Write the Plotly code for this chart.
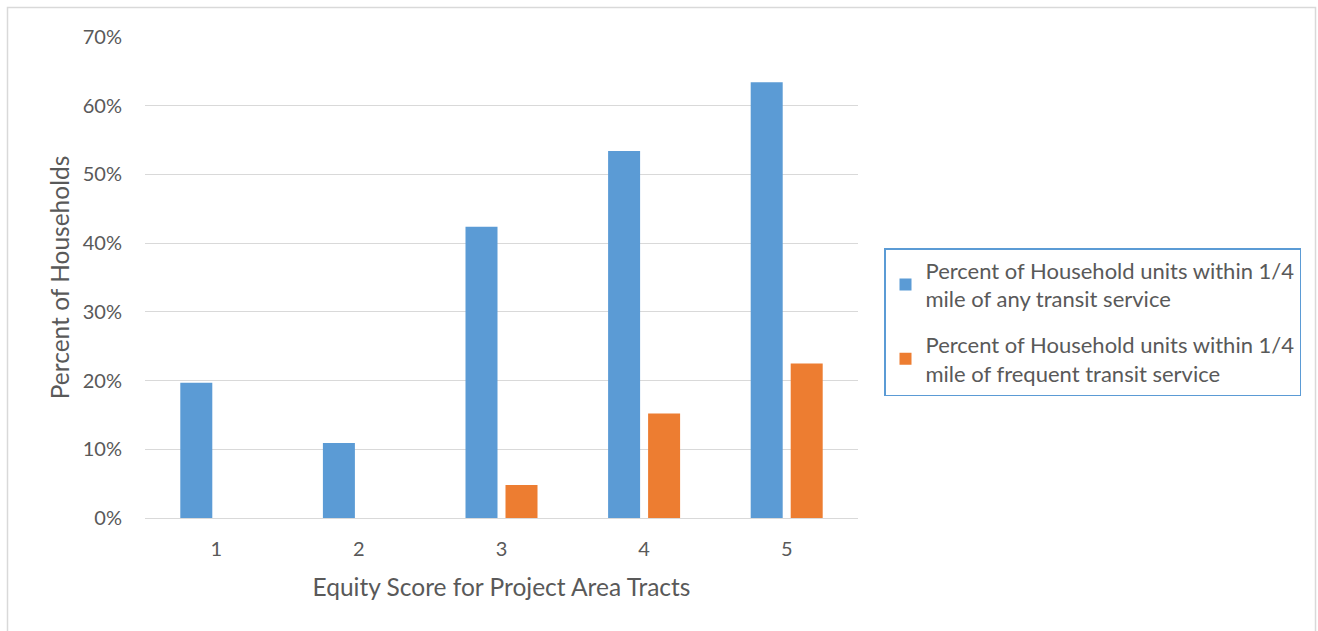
import plotly.graph_objects as go

categories = ["1", "2", "3", "4", "5"]
any_transit = [0.197, 0.109, 0.424, 0.534, 0.634]
frequent_transit = [0.0, 0.0, 0.048, 0.152, 0.225]
series_names = [
    "Percent of Household units within 1/4<br>mile of any transit service",
    "Percent of Household units within 1/4<br>mile of frequent transit service",
]
y_ticks = [0, 0.1, 0.2, 0.3, 0.4, 0.5, 0.6, 0.7]

FONT = "Lato"
TXT = "#595959"

W, H = 1318, 631
L, T = 145, 37
R = W - 858
B = H - 518
PW, PH = W - L - R, H - T - B

def px_x(x):
    return (x - L) / PW

def px_y(y):
    return (H - B - y) / PH

fig = go.Figure()
fig.add_trace(go.Bar(x=categories, y=any_transit, name=series_names[0], legendgroup="any",
                     marker=dict(color="#5b9bd5", line=dict(width=0))))
fig.add_trace(go.Bar(x=categories, y=frequent_transit, name=series_names[1], legendgroup="freq",
                     marker=dict(color="#ed7d31", line=dict(width=0))))

fig.update_layout(
    width=W, height=H,
    margin=dict(l=L, r=R, t=T, b=B, pad=0),
    paper_bgcolor="white", plot_bgcolor="white",
    barmode="group", bargap=0.439, bargroupgap=0.2,
    font=dict(family=FONT, color=TXT, size=20),
    showlegend=True,
    legend=dict(x=px_x(884), y=px_y(248), xanchor="left", yanchor="top",
                bordercolor="#5b9bd5", borderwidth=1.5,
                font=dict(size=22, color=TXT), tracegroupgap=14,
                traceorder="grouped", itemwidth=30),
    xaxis=dict(title=dict(text="Equity Score for Project Area Tracts", font=dict(size=24.5, color=TXT), standoff=19),
               showgrid=False, showline=False, ticks="outside", ticklen=13, tickcolor="rgba(0,0,0,0)",
               tickfont=dict(size=20, color=TXT)),
    yaxis=dict(title=dict(text="Percent of Households", font=dict(size=24.5, color=TXT), standoff=6),
               range=[0, 0.7], tickvals=y_ticks, tickformat=".0%",
               gridcolor="#d9d9d9", gridwidth=1, zeroline=True, zerolinecolor="#d9d9d9",
               zerolinewidth=1, showline=False, ticks="outside", ticklen=18, tickcolor="rgba(0,0,0,0)",
               tickfont=dict(size=20, color=TXT)),
    shapes=[dict(type="rect", xref="paper", yref="paper",
                 x0=px_x(7.5), x1=px_x(1315.5),
                 y0=px_y(700), y1=px_y(7.5),
                 line=dict(color="#d9d9d9", width=1.5), fillcolor="rgba(0,0,0,0)", layer="below")],
)

fig.write_html("out.html", config={"displayModeBar": False},
               post_script="document.body.style.margin='0';document.body.style.overflow='hidden';")
